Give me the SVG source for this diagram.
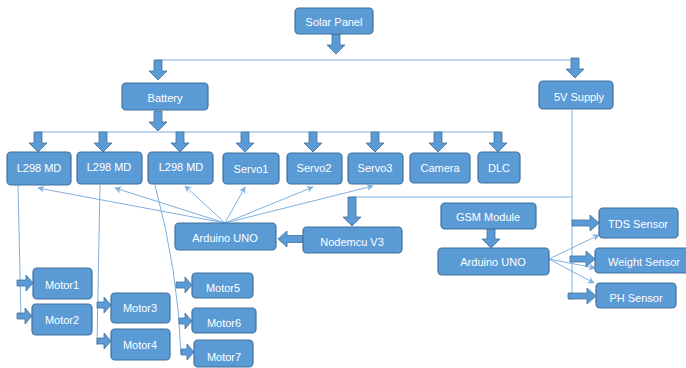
<svg xmlns="http://www.w3.org/2000/svg" width="686" height="368" viewBox="0 0 686 368">
<defs>
<style>
.box{fill:#5B9BD5;stroke:#41719C;stroke-width:1.2}
.t{fill:#fff;font-family:"Liberation Sans",Arial,sans-serif;font-size:11px;text-anchor:middle}
.ba{fill:#5B9BD5;stroke:#41719C;stroke-width:0.8}
.ln{fill:none;stroke:#7EB0DF;stroke-width:1}
.la{fill:none;stroke:#7EB0DF;stroke-width:1;marker-end:url(#ah)}
</style>
<marker id="ah" viewBox="0 0 10 10" refX="9" refY="5" markerWidth="7" markerHeight="7" orient="auto" markerUnits="userSpaceOnUse">
<path d="M0,0 L10,5 L0,10 L3,5 Z" fill="#7EB0DF"/>
</marker>
</defs>
<rect width="686" height="368" fill="#fff"/>

<g id="connectors">
<!-- power lines -->
<path class="ln" d="M158,60 H575"/>
<path class="ln" d="M38,132 H498"/>
<path class="ln" d="M572,110 V300"/>
<path class="ln" d="M352,197 H572"/>
<!-- Arduino left to drivers/servos -->
<path class="la" d="M225,223 L38,188"/>
<path class="la" d="M225,223 L115,188"/>
<path class="la" d="M225,223 L185,186"/>
<path class="la" d="M225,223 L245,187"/>
<path class="la" d="M225,223 L313,187"/>
<path class="la" d="M225,223 L373,186"/>
<!-- L298 to motors -->
<path class="ln" d="M18,185 L21,318"/>
<path class="ln" d="M100,185 L97,345"/>
<path class="ln" d="M155,185 Q178,270 181,354"/>
<!-- Arduino right to sensors -->
<path class="la" d="M549,259 L599,235"/>
<path class="la" d="M549,259 L595,268"/>
<path class="la" d="M549,259 L594,283"/>
<!-- block arrows down -->
<path class="ba" d="M332,34 H340 V45 H345 L336,54 L327,45 H332 Z"/>
<path class="ba" d="M154,60 H162 V71 H167 L158,80 L149,71 H154 Z"/>
<path class="ba" d="M571,58 H579 V69 H584 L575,78 L566,69 H571 Z"/>
<path class="ba" d="M154,111 H162 V122 H167 L158,131 L149,122 H154 Z"/>
<path class="ba" d="M34,132 H42 V143 H47 L38,152 L29,143 H34 Z"/>
<path class="ba" d="M99,132 H107 V143 H112 L103,152 L94,143 H99 Z"/>
<path class="ba" d="M176,132 H184 V143 H189 L180,152 L171,143 H176 Z"/>
<path class="ba" d="M241,132 H249 V143 H254 L245,152 L236,143 H241 Z"/>
<path class="ba" d="M309,132 H317 V143 H322 L313,152 L304,143 H309 Z"/>
<path class="ba" d="M371,132 H379 V143 H384 L375,152 L366,143 H371 Z"/>
<path class="ba" d="M434,132 H442 V143 H447 L438,152 L429,143 H434 Z"/>
<path class="ba" d="M494,132 H502 V143 H507 L498,152 L489,143 H494 Z"/>
<path class="ba" d="M348,197 H356 V217 H361 L352,226 L343,217 H348 Z"/>
<path class="ba" d="M487,229 H495 V239 H500 L491,248 L482,239 H487 Z"/>
<!-- block arrow left -->
<path class="ba" d="M303,235.5 V242.5 H287 V247 L278,239 L287,231 V235.5 Z"/>
<!-- block arrows right -->
<path class="ba" d="M572,220 H590 V215 L599,223 L590,231 V226 H572 Z"/>
<path class="ba" d="M570,256 H586 V251 L595,259 L586,267 V262 H570 Z"/>
<path class="ba" d="M568,293 H587 V288 L596,296 L587,304 V299 H568 Z"/>
<path class="ba" d="M17,280 H26 V275 L33,283 L26,291 V286 H17 Z"/>
<path class="ba" d="M17,313 H25 V308 L32,316 L25,324 V319 H17 Z"/>
<path class="ba" d="M97,302 H104 V297 L111,305 L104,313 V308 H97 Z"/>
<path class="ba" d="M97,338 H104 V333 L111,341 L104,349 V344 H97 Z"/>
<path class="ba" d="M176,282 H185 V277 L192,285 L185,293 V288 H176 Z"/>
<path class="ba" d="M179,318 H185 V313 L192,321 L185,329 V324 H179 Z"/>
<path class="ba" d="M181,349 H187 V344 L194,352 L187,360 V355 H181 Z"/>
</g>

<g id="solar"><rect class="box" x="295" y="8" width="78" height="26" rx="4"/><text class="t" x="334" y="26">Solar Panel</text></g>
<g id="battery"><rect class="box" x="122" y="83" width="86" height="27" rx="4"/><text class="t" x="165" y="102">Battery</text></g>
<g id="supply5v"><rect class="box" x="539" y="81" width="74" height="28" rx="4"/><text class="t" x="579" y="101">5V Supply</text></g>

<g id="l298a"><rect class="box" x="7" y="152" width="64" height="33" rx="4"/><text class="t" x="39" y="172">L298 MD</text></g>
<g id="l298b"><rect class="box" x="77" y="152" width="65" height="32" rx="4"/><text class="t" x="109" y="171">L298 MD</text></g>
<g id="l298c"><rect class="box" x="148" y="152" width="65" height="32" rx="4"/><text class="t" x="181" y="171">L298 MD</text></g>
<g id="servo1"><rect class="box" x="223" y="153" width="56" height="31" rx="4"/><text class="t" x="251" y="173">Servo1</text></g>
<g id="servo2"><rect class="box" x="287" y="153" width="55" height="31" rx="4"/><text class="t" x="314" y="172">Servo2</text></g>
<g id="servo3"><rect class="box" x="348" y="153" width="55" height="31" rx="4"/><text class="t" x="375" y="172">Servo3</text></g>
<g id="camera"><rect class="box" x="410" y="153" width="60" height="30" rx="4"/><text class="t" x="440" y="172">Camera</text></g>
<g id="dlc"><rect class="box" x="478" y="152" width="42" height="31" rx="4"/><text class="t" x="499" y="172">DLC</text></g>

<g id="arduino1"><rect class="box" x="175" y="223" width="101" height="27" rx="4"/><text class="t" x="225" y="242">Arduino UNO</text></g>
<g id="nodemcu"><rect class="box" x="303" y="227" width="99" height="26" rx="4"/><text class="t" x="352" y="246">Nodemcu V3</text></g>
<g id="gsm"><rect class="box" x="441" y="203" width="95" height="26" rx="4"/><text class="t" x="488" y="221">GSM Module</text></g>
<g id="arduino2"><rect class="box" x="438" y="248" width="111" height="27" rx="4"/><text class="t" x="493" y="266">Arduino UNO</text></g>
<g id="tds"><rect class="box" x="599" y="208" width="79" height="30" rx="4"/><text class="t" x="638" y="228">TDS Sensor</text></g>
<g id="weight"><rect class="box" x="595" y="248" width="95" height="25" rx="4"/><text class="t" x="644" y="266">Weight Sensor</text></g>
<g id="ph"><rect class="box" x="596" y="283" width="80" height="25" rx="4"/><text class="t" x="636" y="302">PH Sensor</text></g>

<g id="motor1"><rect class="box" x="33" y="268" width="59" height="31" rx="4"/><text class="t" x="62" y="289">Motor1</text></g>
<g id="motor2"><rect class="box" x="32" y="304" width="60" height="31" rx="4"/><text class="t" x="62" y="324">Motor2</text></g>
<g id="motor3"><rect class="box" x="111" y="293" width="59" height="30" rx="4"/><text class="t" x="140" y="312">Motor3</text></g>
<g id="motor4"><rect class="box" x="111" y="329" width="59" height="31" rx="4"/><text class="t" x="140" y="349">Motor4</text></g>
<g id="motor5"><rect class="box" x="192" y="273" width="61" height="25" rx="4"/><text class="t" x="223" y="292">Motor5</text></g>
<g id="motor6"><rect class="box" x="192" y="308" width="64" height="25" rx="4"/><text class="t" x="224" y="327">Motor6</text></g>
<g id="motor7"><rect class="box" x="194" y="340" width="59" height="27" rx="4"/><text class="t" x="224" y="361">Motor7</text></g>
</svg>
